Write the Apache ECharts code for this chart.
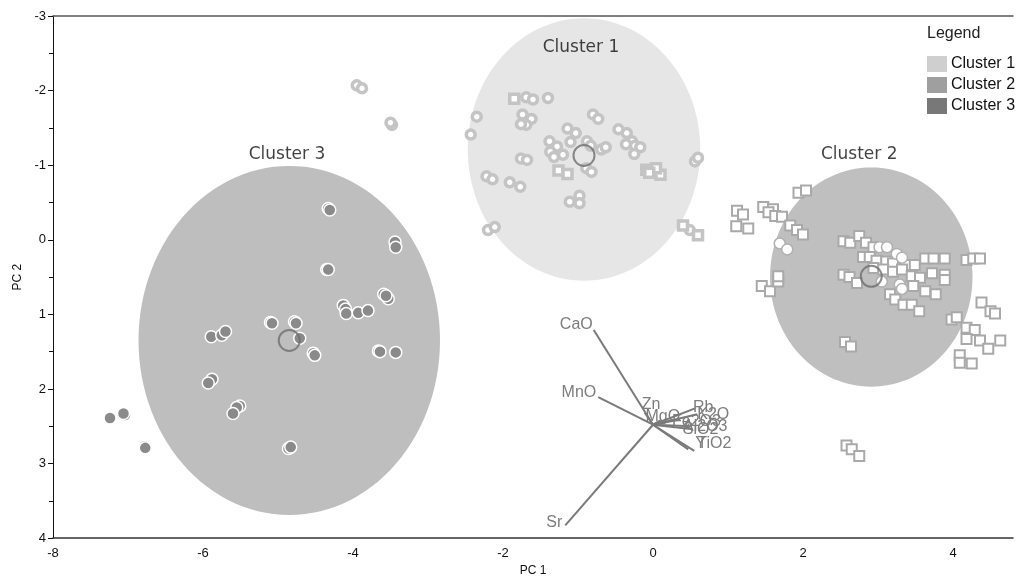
<!DOCTYPE html>
<html>
<head>
<meta charset="utf-8">
<script src="https://cdn.jsdelivr.net/npm/echarts@6/dist/echarts.min.js"></script>
<style>
html, body { margin: 0; padding: 0; background: #fff; }
#chart { width: 1017px; height: 582px; }
</style>
</head>
<body>
<div id="chart"></div>
<script>
// cluster names & ellipses (cx, cy, rx, ry in PC units)
var clusterNames = ['Cluster 1', 'Cluster 2', 'Cluster 3'];
var ellipses = [
	[-0.92, -1.21, 1.55, 1.76],
	[2.91, 0.50, 1.35, 1.47],
	[-4.85, 1.35, 2.01, 2.34]
];
var centroids = [[-0.92, -1.13], [2.91, 0.49], [-4.85, 1.35]];
var clusterLabelAt = [[-0.96, -2.58], [2.75, -1.14], [-4.88, -1.14]];

// samples
var c1Circles = [
	[-3.95,-2.07],[-3.88,-2.03],[-3.48,-1.54],[-3.50,-1.57],
	[-1.69,-1.91],[-1.60,-1.88],[-1.40,-1.90],[-2.35,-1.65],[-2.43,-1.41],
	[-1.74,-1.68],[-1.62,-1.62],[-1.69,-1.54],[-1.76,-1.55],
	[-0.80,-1.68],[-0.73,-1.62],[-1.14,-1.49],[-1.03,-1.43],
	[-1.38,-1.32],[-1.28,-1.25],[-1.37,-1.18],[-1.32,-1.11],[-1.20,-1.14],[-1.10,-1.31],[-0.88,-1.32],[-0.83,-1.26],
	[-0.69,-1.21],[-0.63,-1.24],
	[-0.46,-1.48],[-0.35,-1.43],[-0.28,-1.32],[-0.36,-1.28],[-0.24,-1.26],[-0.17,-1.24],[-0.25,-1.15],
	[-1.76,-1.09],[-1.68,-1.07],[-2.22,-0.85],[-2.14,-0.81],[-1.91,-0.77],[-1.77,-0.71],
	[-0.89,-0.96],[-0.82,-0.91],[0.56,-1.05],[0.60,-1.10],
	[-1.11,-0.51],[-0.98,-0.59],[-0.98,-0.49],[-2.20,-0.13],[-2.11,-0.17],[0.49,-0.13]
];
var c1Squares = [
	[-1.85,-1.89],[-1.26,-0.93],[-1.14,-0.88],[-0.09,-0.94],[0.00,-0.92],[0.10,-0.87],
	[0.04,-0.96],[-0.05,-0.90],[0.40,-0.19],[0.60,-0.06]
];
var c2Circles = [
	[1.69,0.05],[1.79,0.13],[3.02,0.10],[3.12,0.10],[3.25,0.19],[3.32,0.24],[3.05,0.56],[3.29,0.60],[3.32,0.66]
];
var c2Squares = [
	[1.94,-0.63],[2.04,-0.66],[1.12,-0.39],[1.20,-0.34],[1.11,-0.18],[1.27,-0.15],
	[1.47,-0.44],[1.60,-0.41],[1.54,-0.37],[1.63,-0.32],[1.72,-0.31],[1.83,-0.19],[1.92,-0.13],[2.00,-0.07],
	[1.45,0.62],[1.56,0.69],[1.67,0.56],[1.67,0.49],
	[2.54,0.02],[2.63,0.04],[2.75,-0.05],[2.84,0.04],[2.94,0.10],
	[2.80,0.23],[2.89,0.23],[2.98,0.28],[3.11,0.29],[3.20,0.32],
	[3.36,0.34],[3.49,0.34],[3.63,0.25],[3.74,0.25],[3.89,0.25],[4.18,0.27],[4.27,0.25],[4.36,0.25],
	[2.94,0.38],[3.07,0.40],[3.20,0.43],[3.32,0.40],[3.45,0.49],[3.56,0.51],[3.72,0.45],[3.89,0.47],[3.89,0.54],
	[2.54,0.47],[2.62,0.50],[2.72,0.58],
	[3.16,0.73],[3.23,0.80],[3.34,0.87],[3.45,0.87],[3.55,0.96],[3.47,0.62],[3.63,0.69],[3.77,0.73],
	[4.38,0.84],[4.50,0.96],[4.56,0.99],
	[3.98,1.07],[4.05,1.04],[4.18,1.18],[4.29,1.21],[4.18,1.33],[4.36,1.35],[4.47,1.46],[4.63,1.35],[4.09,1.55],[4.25,1.66],[4.09,1.65],
	[2.56,1.37],[2.64,1.43],
	[2.58,2.76],[2.65,2.81],[2.75,2.90]
];
var c3Circles = [
	[-4.33,-0.42],[-4.31,-0.40],[-3.44,0.03],[-3.43,0.10],[-4.35,0.40],[-4.33,0.40],
	[-3.59,0.73],[-3.53,0.79],[-3.56,0.75],
	[-4.13,0.88],[-4.10,0.93],[-4.09,0.99],[-3.93,0.98],[-3.80,0.95],
	[-5.10,1.11],[-5.08,1.12],[-4.78,1.10],[-4.76,1.12],[-4.71,1.32],
	[-4.53,1.52],[-4.51,1.55],[-3.66,1.49],[-3.64,1.50],[-3.43,1.51],
	[-5.89,1.30],[-5.75,1.28],[-5.70,1.23],
	[-5.88,1.87],[-5.93,1.92],[-5.51,2.23],[-5.55,2.25],[-5.60,2.33],
	[-7.04,2.35],[-7.06,2.33],[-7.24,2.39],[-6.78,2.77],[-6.77,2.79],[-4.86,2.80],[-4.83,2.78]
];

// biplot loadings (start at origin, end at point)
var loadOrigin = [0, 2.48];
var loadNames = ['CaO', 'MnO', 'Sr', 'Zn', 'MgO', 'Fe2O3', 'Rb', 'K2O', 'Al2O3', 'SiO2', 'Y', 'TiO2'];
var loadX = [-0.79, -0.73, -1.17, -0.11, 0.10, 0.36, 0.56, 0.59, 0.52, 0.53, 0.47, 0.55];
var loadY = [1.21, 2.11, 3.83, 2.32, 2.42, 2.41, 2.26, 2.34, 2.50, 2.54, 2.81, 2.83];

// axis
var xMin = -8, xMax = 4.8, xStep = 2;
var yMin = -3, yMax = 4, yStep = 1;

var legendColors = ['#cfcfcf', '#9f9f9f', '#787878'];
var ellipseColors = ['#e6e6e6', '#bfbfbf', '#bebebe'];

// label offsets in px (dx, dy, align)
var loadLabelOff = {
	CaO: [-1, -5, 'right'], MnO: [-2, -5, 'right'], Sr: [-3, -3, 'right'],
	Zn: [-3, -8, 'left'], MgO: [-15, -4, 'left'], Fe2O3: [-8, 2, 'left'],
	Rb: [-2, -1, 'left'], K2O: [0, 0, 'left'], Al2O3: [-9, 0, 'left'],
	SiO2: [-10, 0, 'left'], Y: [7, -6, 'left'], TiO2: [3, -7, 'left']
};

var myChart = echarts.init(document.getElementById('chart'), null, { renderer: 'canvas' });

var ellipseSeries = function(i) {
	return {
		name: clusterNames[i],
		type: 'custom',
		z: 1,
		silent: true,
		data: [ellipses[i]],
		renderItem: function(params, api) {
			var cx = api.value(0), cy = api.value(1), rx = api.value(2), ry = api.value(3);
			var pts = [];
			for (var k = 0; k < 120; k++) {
				var t = k / 120 * Math.PI * 2;
				pts.push(api.coord([cx + rx * Math.cos(t), cy + ry * Math.sin(t)]));
			}
			return {
				type: 'polygon',
				shape: { points: pts },
				style: { fill: ellipseColors[i], stroke: null }
			};
		}
	};
};

var loadData = [];
for (var i = 0; i < loadNames.length; i++) {
	loadData.push([loadOrigin[0], loadOrigin[1], loadX[i], loadY[i], i]);
}

var series = [
	ellipseSeries(0), ellipseSeries(1), ellipseSeries(2),
	{
		type: 'custom',
		z: 3,
		silent: true,
		data: loadData,
		renderItem: function(params, api) {
			var p0 = api.coord([api.value(0), api.value(1)]);
			var p1 = api.coord([api.value(2), api.value(3)]);
			var name = loadNames[api.value(4)];
			var off = loadLabelOff[name];
			return {
				type: 'group',
				children: [{
					type: 'line',
					shape: { x1: p0[0], y1: p0[1], x2: p1[0], y2: p1[1] },
					style: { stroke: '#7a7a7a', lineWidth: 2 }
				}, {
					type: 'text',
					x: p1[0] + off[0],
					y: p1[1] + off[1],
					style: {
						text: name,
						fill: '#7d7d7d',
						font: '16px "Liberation Sans", Arial, sans-serif',
						align: off[2],
						verticalAlign: 'middle'
					}
				}]
			};
		}
	},
	{
		name: 'Cluster 1', type: 'scatter', z: 4, symbol: 'circle', symbolSize: 9,
		data: c1Circles,
		itemStyle: { color: '#ffffff', borderColor: '#c4c4c4', borderWidth: 3.5, opacity: 1 }
	},
	{
		name: 'Cluster 1', type: 'scatter', z: 4, symbol: 'rect', symbolSize: 9,
		data: c1Squares,
		itemStyle: { color: '#ffffff', borderColor: '#c4c4c4', borderWidth: 3.5, opacity: 1 }
	},
	{
		name: 'Cluster 2', type: 'scatter', z: 4, symbol: 'rect', symbolSize: 10,
		data: c2Squares,
		itemStyle: { color: '#ffffff', borderColor: '#a9a9a9', borderWidth: 2, opacity: 1 }
	},
	{
		name: 'Cluster 2', type: 'scatter', z: 4, symbol: 'circle', symbolSize: 11,
		data: c2Circles,
		itemStyle: { color: '#ffffff', borderColor: '#b0b0b0', borderWidth: 1.5, opacity: 1 }
	},
	{
		name: 'Cluster 3', type: 'scatter', z: 4, symbol: 'circle', symbolSize: 12,
		data: c3Circles,
		itemStyle: { color: '#8a8a8a', borderColor: '#ffffff', borderWidth: 1.5, opacity: 1 }
	},
	{
		type: 'scatter', z: 5, symbol: 'circle', symbolSize: 21,
		data: centroids,
		itemStyle: { color: 'rgba(0,0,0,0)', borderColor: '#6e6e6e', borderWidth: 2 }
	},
	{
		type: 'scatter', z: 5, symbolSize: 0, silent: true,
		data: clusterLabelAt.map(function(p, i) { return { value: p, name: clusterNames[i] }; }),
		label: {
			show: true, position: 'inside', formatter: '{b}',
			color: '#111', fontSize: 17, fontFamily: '"DejaVu Sans", sans-serif'
		}
	}
];

var option = {
	animation: false,
	title: {
		text: 'Legend', left: 922, top: 21,
		textStyle: { fontSize: 16, fontWeight: 'normal', color: '#222', fontFamily: '"Liberation Sans", Arial, sans-serif' }
	},
	legend: {
		orient: 'vertical', left: 922, top: 51,
		itemWidth: 20, itemHeight: 16, itemGap: 5,
		selectedMode: false,
		icon: 'rect',
		textStyle: { fontSize: 16, color: '#111', fontFamily: '"Liberation Sans", Arial, sans-serif', padding: [0, 0, 0, -1] },
		data: clusterNames.map(function(n, i) {
			return { name: n, itemStyle: { color: legendColors[i], borderWidth: 0 } };
		})
	},
	grid: { left: 53, top: 16, right: 4, bottom: 37 },
	xAxis: [{
		type: 'value', min: xMin, max: xMax, interval: xStep,
		name: 'PC 1', nameLocation: 'middle', nameGap: 24,
		nameTextStyle: { fontSize: 12, color: '#111', fontFamily: '"Liberation Sans", Arial, sans-serif' },
		axisLine: { show: true, onZero: false, lineStyle: { color: '#333', width: 1.5 } },
		axisTick: { show: false },
		splitLine: { show: false },
		axisLabel: {
			margin: 9, fontSize: 13, color: '#111', fontFamily: '"Liberation Sans Narrow", "Liberation Sans", Arial, sans-serif',
			showMaxLabel: false,
			formatter: function(v) { return (Math.round(v) === v && v % 2 === 0) ? String(v) : ''; }
		}
	}, {
		type: 'value', min: xMin, max: xMax, position: 'top',
		axisLine: { show: true, onZero: false, lineStyle: { color: '#555', width: 1.5 } },
		axisTick: { show: false }, axisLabel: { show: false }, splitLine: { show: false }
	}],
	yAxis: {
		type: 'value', min: yMin, max: yMax, interval: yStep, inverse: true,
		name: 'PC 2', nameLocation: 'middle', nameGap: 28, nameRotate: 90,
		nameTextStyle: { fontSize: 12, color: '#111', fontFamily: '"Liberation Sans", Arial, sans-serif' },
		axisLine: { show: true, onZero: false, lineStyle: { color: '#111', width: 1 } },
		axisTick: { show: true, inside: false, length: 5, lineStyle: { color: '#111' } },
		minorTick: { show: true, splitNumber: 2, length: 4, lineStyle: { color: '#111' } },
		splitLine: { show: false },
		axisLabel: { margin: 7, fontSize: 13, color: '#111', fontFamily: '"Liberation Sans", Arial, sans-serif' }
	},
	series: series
};
myChart.setOption(option);
</script>
</body>
</html>
